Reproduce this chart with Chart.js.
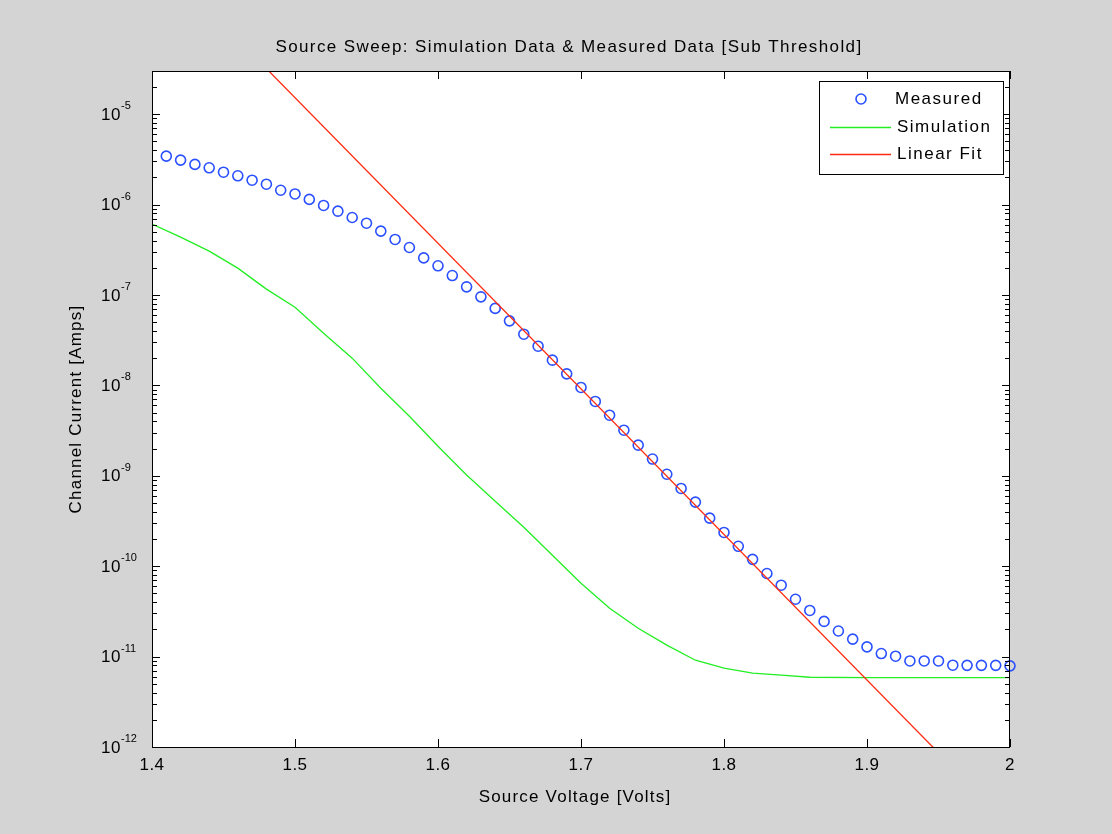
<!DOCTYPE html>
<html>
<head>
<meta charset="utf-8">
<script src="https://cdn.jsdelivr.net/npm/chart.js@4.4.0/dist/chart.umd.min.js"></script>
<style>
html,body{margin:0;padding:0;background:#ffffff;}
#wrap{width:1112px;height:834px;position:relative;}
canvas{display:block;}
</style>
</head>
<body>
<div id="wrap"><canvas id="c" width="1112" height="834"></canvas></div>
<script>
// ---------- DATA ----------
const chartTitle = 'Source Sweep: Simulation Data & Measured Data [Sub Threshold]';
const xAxisTitle = 'Source Voltage [Volts]';
const yAxisTitle = 'Channel Current [Amps]';
const seriesNames = ['Measured', 'Simulation', 'Linear Fit'];

const measuredVoltage = [1.41,1.42,1.43,1.44,1.45,1.46,1.47,1.48,1.49,1.50,
  1.51,1.52,1.53,1.54,1.55,1.56,1.57,1.58,1.59,1.60,
  1.61,1.62,1.63,1.64,1.65,1.66,1.67,1.68,1.69,1.70,
  1.71,1.72,1.73,1.74,1.75,1.76,1.77,1.78,1.79,1.80,
  1.81,1.82,1.83,1.84,1.85,1.86,1.87,1.88,1.89,1.90,
  1.91,1.92,1.93,1.94,1.95,1.96,1.97,1.98,1.99,2.00];
const measuredCurrent = [3.43e-6,3.10e-6,2.78e-6,2.55e-6,2.28e-6,2.08e-6,1.86e-6,1.68e-6,1.44e-6,1.31e-6,
  1.14e-6,9.77e-7,8.45e-7,7.19e-7,6.22e-7,5.08e-7,4.11e-7,3.35e-7,2.57e-7,2.10e-7,
  1.64e-7,1.23e-7,9.53e-8,7.10e-8,5.17e-8,3.68e-8,2.71e-8,1.90e-8,1.34e-8,9.48e-9,
  6.64e-9,4.68e-9,3.19e-9,2.18e-9,1.53e-9,1.04e-9,7.24e-10,5.11e-10,3.40e-10,2.36e-10,
  1.66e-10,1.19e-10,8.30e-11,6.16e-11,4.31e-11,3.24e-11,2.45e-11,1.92e-11,1.56e-11,1.28e-11,
  1.08e-11,1.01e-11,8.95e-12,8.95e-12,8.95e-12,8.03e-12,8.0e-12,8.0e-12,8.0e-12,7.9e-12];

const simulationVoltage = [1.40,1.42,1.44,1.46,1.48,1.50,1.52,1.54,1.56,1.58,
  1.60,1.62,1.64,1.66,1.68,1.70,1.72,1.74,1.76,1.78,
  1.80,1.82,1.84,1.86,1.90,1.95,2.00];
const simulationCurrent = [6.07e-7,4.36e-7,3.05e-7,1.98e-7,1.16e-7,7.30e-8,3.78e-8,2.00e-8,9.31e-9,4.56e-9,
  2.12e-9,1.02e-9,5.24e-10,2.70e-10,1.32e-10,6.48e-11,3.43e-11,2.06e-11,1.34e-11,9.12e-12,
  7.44e-12,6.56e-12,6.23e-12,5.91e-12,5.85e-12,5.85e-12,5.85e-12];

const fitVoltage = [1.40, 2.00];
const fitCurrent = [6.2e-4, 1.35e-13];

const xTickValues = [1.4,1.5,1.6,1.7,1.8,1.9,2.0];
const xTickLabels = ['1.4','1.5','1.6','1.7','1.8','1.9','2'];
const yDecadeExponents = [-12,-11,-10,-9,-8,-7,-6,-5];

// ---------- STYLE ----------
const FIG_BG = '#d4d4d4';
const C_MEAS = '#2a50ff';
const C_SIM = '#22ee22';
const C_FIT = '#ff2a10';
const FONT = '"Liberation Sans", Arial, Helvetica, sans-serif';

function pts(xs, ys){ return xs.map((x,i)=>({x:x, y:ys[i]})); }

function setSpacing(ctx, px){ if ('letterSpacing' in ctx) ctx.letterSpacing = px + 'px'; }

const matlabFrame = {
  id: 'matlabFrame',
  beforeDraw(chart){
    const ctx = chart.ctx, a = chart.chartArea;
    ctx.save();
    ctx.fillStyle = FIG_BG;
    ctx.fillRect(0,0,chart.width,chart.height);
    ctx.fillStyle = '#ffffff';
    ctx.fillRect(a.left, a.top, a.right-a.left, a.bottom-a.top);
    ctx.restore();
  },
  afterDraw(chart){
    const ctx = chart.ctx, a = chart.chartArea;
    const xs = chart.scales.x, ys = chart.scales.y;
    ctx.save();
    // axes box
    ctx.strokeStyle = '#000';
    ctx.lineWidth = 1;
    ctx.strokeRect(a.left+0.5, a.top+0.5, a.right-a.left-1, a.bottom-a.top);
    ctx.beginPath();
    // x ticks
    xTickValues.forEach(v=>{
      const px = Math.round(xs.getPixelForValue(v))+0.5;
      ctx.moveTo(px, a.bottom); ctx.lineTo(px, a.bottom-8);
      ctx.moveTo(px, a.top); ctx.lineTo(px, a.top+8);
    });
    // y ticks (major + minor)
    yDecadeExponents.forEach(e=>{
      for (let m=1; m<=9; m++){
        const v = m*Math.pow(10,e);
        if (v < ys.min*0.999 || v > ys.max*1.001) continue;
        const py = Math.round(ys.getPixelForValue(v))+0.5;
        const len = (m===1) ? 8 : 5;
        ctx.moveTo(a.left, py); ctx.lineTo(a.left+len, py);
        ctx.moveTo(a.right, py); ctx.lineTo(a.right-len, py);
      }
    });
    ctx.stroke();

    ctx.fillStyle = '#000';
    // x tick labels
    ctx.font = '17px ' + FONT;
    setSpacing(ctx, 0.5);
    ctx.textAlign = 'center';
    ctx.textBaseline = 'middle';
    xTickValues.forEach((v,i)=>{
      ctx.fillText(xTickLabels[i], xs.getPixelForValue(v), a.bottom+18);
    });
    // y tick labels 10^e
    yDecadeExponents.forEach(e=>{
      const py = ys.getPixelForValue(Math.pow(10,e));
      ctx.font = '17px ' + FONT;
      setSpacing(ctx, 0.5);
      ctx.textAlign = 'right';
      ctx.textBaseline = 'middle';
      ctx.fillText('10', 121, py+1);
      ctx.font = '11px ' + FONT;
      setSpacing(ctx, 0);
      ctx.textAlign = 'left';
      ctx.fillText(String(e), 121, py-8);
    });
    // title
    ctx.font = '17px ' + FONT;
    setSpacing(ctx, 1.4);
    ctx.textAlign = 'center';
    ctx.textBaseline = 'middle';
    ctx.fillText(chartTitle, 569, 47);
    // x axis title
    setSpacing(ctx, 1.2);
    ctx.fillText(xAxisTitle, 575, 797);
    // y axis title
    ctx.save();
    ctx.translate(76, 409);
    ctx.rotate(-Math.PI/2);
    ctx.fillText(yAxisTitle, 0, 0);
    ctx.restore();

    // legend
    const L = {x:819, y:81, w:184, h:93};
    ctx.fillStyle = '#fff';
    ctx.fillRect(L.x, L.y, L.w, L.h);
    ctx.strokeStyle = '#000';
    ctx.lineWidth = 1;
    ctx.strokeRect(L.x+0.5, L.y+0.5, L.w, L.h);
    const ds = chart.data.datasets;
    const rows = [99, 127, 154];
    // marker row
    ctx.strokeStyle = ds[0].borderColor;
    ctx.lineWidth = ds[0].borderWidth;
    ctx.beginPath(); ctx.arc(861, rows[0], ds[0].pointRadius, 0, Math.PI*2); ctx.stroke();
    for (let i=1;i<3;i++){
      ctx.strokeStyle = ds[i].borderColor;
      ctx.lineWidth = ds[i].borderWidth;
      ctx.beginPath(); ctx.moveTo(830, rows[i]+0.5); ctx.lineTo(891, rows[i]+0.5); ctx.stroke();
    }
    ctx.fillStyle = '#000';
    ctx.font = '17px ' + FONT;
    setSpacing(ctx, 1.5);
    ctx.textAlign = 'left';
    ctx.textBaseline = 'middle';
    ctx.fillText(ds[0].label, 895, rows[0]);
    ctx.fillText(ds[1].label, 897, rows[1]);
    ctx.fillText(ds[2].label, 897, rows[2]);
    setSpacing(ctx, 0);
    ctx.restore();
  }
};

const chart = new Chart(document.getElementById('c'), {
  type: 'scatter',
  data: {
    datasets: [
      { label: seriesNames[0], data: pts(measuredVoltage, measuredCurrent), showLine: false,
        pointStyle: 'circle', pointRadius: 5, pointHoverRadius: 5, borderColor: C_MEAS,
        backgroundColor: 'rgba(0,0,0,0)', borderWidth: 1.6, clip: false, order: 3 },
      { label: seriesNames[1], data: pts(simulationVoltage, simulationCurrent), showLine: true,
        pointRadius: 0, borderColor: C_SIM, backgroundColor: C_SIM, borderWidth: 1.3, tension: 0, order: 2 },
      { label: seriesNames[2], data: pts(fitVoltage, fitCurrent), showLine: true,
        pointRadius: 0, borderColor: C_FIT, backgroundColor: C_FIT, borderWidth: 1.3, order: 1 }
    ]
  },
  options: {
    responsive: false,
    animation: false,
    devicePixelRatio: 1,
    layout: { padding: { left: 152, right: 102, top: 71, bottom: 87 } },
    scales: {
      x: { type: 'linear', min: 1.4, max: 2.0, display: false },
      y: { type: 'logarithmic', min: 1e-12, max: 3e-5, display: false }
    },
    plugins: {
      legend: { display: false },
      tooltip: { enabled: false },
      title: { display: false }
    },
    events: []
  },
  plugins: [matlabFrame]
});
</script>
</body>
</html>
